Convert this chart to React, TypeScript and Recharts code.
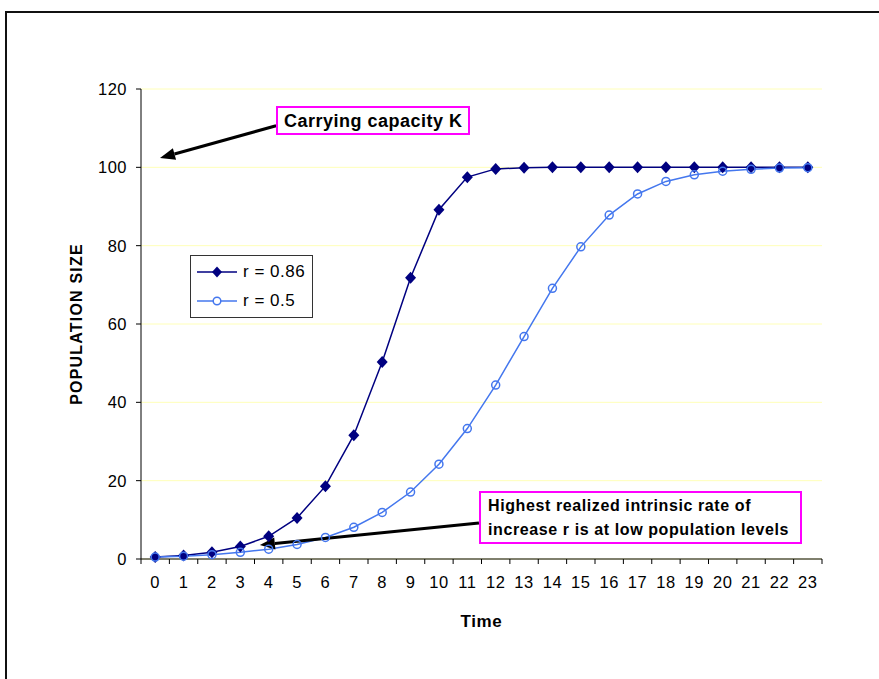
import React from 'react';
import {
  LineChart,
  Line,
  XAxis,
  YAxis,
  CartesianGrid,
  Legend,
  ReferenceLine,
  Label,
} from 'recharts';

// time steps and the two logistic runs
const times = [0, 1, 2, 3, 4, 5, 6, 7, 8, 9, 10, 11, 12, 13, 14, 15, 16, 17, 18, 19, 20, 21, 22, 23];
const rFast = [0.5, 0.9, 1.7, 3.2, 5.8, 10.5, 18.6, 31.6, 50.3, 71.8, 89.2, 97.5, 99.6, 99.9, 100, 100, 100, 100, 100, 100, 100, 100, 100, 100];
const rSlow = [0.5, 0.7, 1.1, 1.7, 2.5, 3.7, 5.5, 8.1, 11.9, 17.1, 24.2, 33.3, 44.4, 56.8, 69.1, 79.7, 87.8, 93.2, 96.4, 98.1, 99.0, 99.5, 99.8, 99.9];
const yTicks = [0, 20, 40, 60, 80, 100, 120];
const xBounds = [-0.5, ...times.map((t) => t + 0.5)];

// arrows: [tail, tip] in data units
const arrowK = [{ x: 4.26, y: 110.6 }, { x: 0.17, y: 102.4 }];
const arrowR = [{ x: 11.41, y: 9.2 }, { x: 3.69, y: 3.6 }];

const data = times.map((t, i) => ({ t, fast: rFast[i], slow: rSlow[i] }));

const FONT = '"Liberation Sans", Arial, sans-serif';
const NAVY = '#000080';
const BLUE = '#4477EE';
const PLOT_W = 681;
const BAND = PLOT_W / 24;

const XTick = (p: any) => {
  const v = p.payload.value;
  if (v > 23) return <g />;
  return (
    <text x={p.x + BAND / 2} y={p.y} dy="0.71em" textAnchor="middle" fontSize={16.5} fill="#000" letterSpacing={0.6}>
      {v + 0.5}
    </text>
  );
};

const Diamond = (p: any) => {
  const { cx, cy, index } = p;
  return (
    <path
      key={`d-${index}`}
      d={`M${cx},${cy - 6}L${cx + 5.5},${cy}L${cx},${cy + 6}L${cx - 5.5},${cy}Z`}
      fill={NAVY}
    />
  );
};

const Arrow = (p: any) => {
  const { x1, y1, x2, y2 } = p;
  const a = Math.atan2(y2 - y1, x2 - x1);
  const len = 15;
  const hw = 6;
  const bx = x2 - len * Math.cos(a);
  const by = y2 - len * Math.sin(a);
  const nx = -Math.sin(a) * hw;
  const ny = Math.cos(a) * hw;
  return (
    <g>
      <line x1={x1} y1={y1} x2={bx} y2={by} stroke="#000" strokeWidth={3} />
      <polygon points={`${x2},${y2} ${bx + nx},${by + ny} ${bx - nx},${by - ny}`} fill="#000" />
    </g>
  );
};

const LegendBox = () => (
  <div
    style={{
      width: 123,
      height: 63,
      border: '1px solid #333',
      background: '#fff',
      boxSizing: 'border-box',
      fontFamily: FONT,
      fontSize: 17,
      letterSpacing: 0.5,
      color: '#000',
      textAlign: 'left',
    }}
  >
    <div style={{ display: 'flex', alignItems: 'center', height: 32, paddingLeft: 6 }}>
      <svg width={42} height={12}>
        <line x1={0} y1={6} x2={40} y2={6} stroke={NAVY} strokeWidth={1.5} />
        <path d="M20,0.5L25,6L20,11.5L15,6Z" fill={NAVY} />
      </svg>
      <span style={{ marginLeft: 4 }}>r = 0.86</span>
    </div>
    <div style={{ display: 'flex', alignItems: 'center', height: 26, paddingLeft: 6 }}>
      <svg width={42} height={12}>
        <line x1={0} y1={6} x2={40} y2={6} stroke={BLUE} strokeWidth={1.5} />
        <circle cx={20} cy={6} r={3.8} fill="#fff" stroke={BLUE} strokeWidth={1.5} />
      </svg>
      <span style={{ marginLeft: 4 }}>r = 0.5</span>
    </div>
  </div>
);

const boxStyle: React.CSSProperties = {
  position: 'absolute',
  border: '2px solid #FF00FF',
  background: '#fff',
  fontFamily: FONT,
  fontWeight: 'bold',
  fontSize: 16,
  letterSpacing: 0.6,
  color: '#000',
  boxSizing: 'border-box',
};

export default function App() {
  return (
    <div
      style={{
        position: 'absolute',
        left: 0,
        top: 0,
        width: 879,
        height: 679,
        overflow: 'hidden',
        background: '#fff',
        fontFamily: FONT,
      }}
    >
      <div
        style={{
          position: 'absolute',
          left: 5,
          top: 11,
          width: 950,
          height: 750,
          border: '2px solid #111',
        }}
      />
      <div style={{ position: 'absolute', left: 0, top: 0 }}>
        <LineChart
          width={879}
          height={679}
          data={data}
          margin={{ top: 89, right: 57, left: 71, bottom: 50 }}
          style={{ fontFamily: FONT }}
        >
          <CartesianGrid xAxisId="x" yAxisId="y" vertical={false} stroke="#FFFFB8" />
          <XAxis
            xAxisId="x"
            dataKey="t"
            type="number"
            domain={[-0.5, 23.5]}
            ticks={xBounds}
            interval={0}
            height={70}
            tickSize={5}
            tickMargin={12}
            tick={XTick}
            stroke="#000"
          >
            <Label
              value="Time"
              position="insideBottom"
              offset={2}
              style={{ fontWeight: 'bold', fontSize: 17, fill: '#000', letterSpacing: 0.6 }}
            />
          </XAxis>
          <XAxis
            xAxisId="top"
            orientation="top"
            type="number"
            domain={[-0.5, 23.5]}
            height={0}
            tick={false}
            tickLine={false}
            stroke="#888"
          />
          <YAxis
            yAxisId="y"
            domain={[0, 120]}
            ticks={yTicks}
            width={70}
            tickSize={5}
            tickMargin={9}
            tick={{ fontSize: 16.5, fill: '#000', letterSpacing: 0.5 }}
            stroke="#000"
          >
            <Label
              value="POPULATION SIZE"
              angle={-90}
              position="insideLeft"
              offset={5}
              style={{ textAnchor: 'middle', fontWeight: 'bold', fontSize: 16, fill: '#000', letterSpacing: 1.2 }}
            />
          </YAxis>
          <YAxis
            yAxisId="right"
            orientation="right"
            domain={[0, 120]}
            width={0}
            tick={false}
            tickLine={false}
            stroke="#888"
          />
          <Legend
            layout="horizontal"
            verticalAlign="middle"
            align="center"
            content={LegendBox}
            wrapperStyle={{ position: 'absolute', left: 190, top: 255, width: 123, height: 63 }}
          />
          <Line
            xAxisId="x"
            yAxisId="y"
            dataKey="fast"
            stroke={NAVY}
            strokeWidth={1.5}
            dot={Diamond}
            activeDot={false}
            isAnimationActive={false}
          />
          <Line
            xAxisId="x"
            yAxisId="y"
            dataKey="slow"
            stroke={BLUE}
            strokeWidth={1.5}
            dot={{ r: 4, fill: 'none', stroke: BLUE, strokeWidth: 1.5 }}
            activeDot={false}
            isAnimationActive={false}
          />
          <ReferenceLine xAxisId="x" yAxisId="y" segment={arrowK} shape={Arrow} />
          <ReferenceLine xAxisId="x" yAxisId="y" segment={arrowR} shape={Arrow} />
        </LineChart>
      </div>
      <div
        style={{ ...boxStyle, left: 276, top: 106, width: 194, height: 29, padding: '3px 0 0 6px', fontSize: 18, letterSpacing: 0.5 }}
      >
        Carrying capacity K
      </div>
      <div
        style={{
          ...boxStyle,
          left: 479,
          top: 491,
          width: 323,
          height: 53,
          padding: '1px 0 0 7px',
          lineHeight: '24px',
        }}
      >
        Highest realized intrinsic rate of
        <br />
        increase r is at low population levels
      </div>
    </div>
  );
}
